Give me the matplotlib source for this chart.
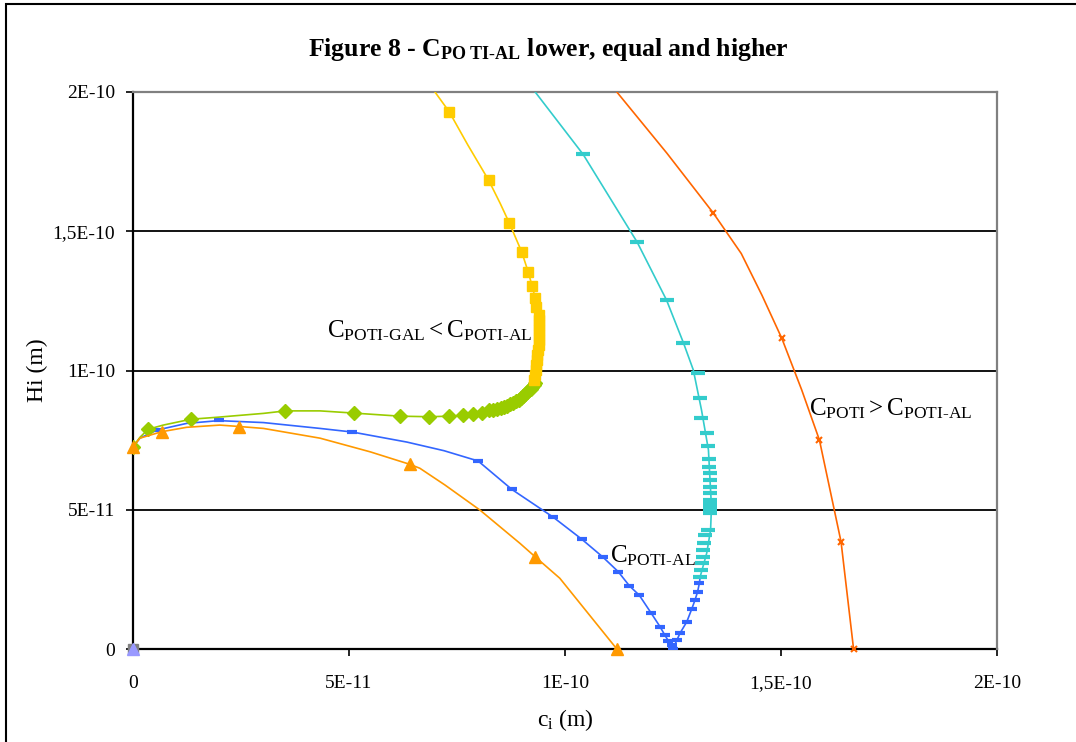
import matplotlib
matplotlib.use('Agg')
import matplotlib.pyplot as plt
from matplotlib.patches import Rectangle
import numpy as np

plt.rcParams['font.family'] = 'Liberation Serif'
plt.rcParams['mathtext.fontset'] = 'custom'
plt.rcParams['mathtext.rm'] = 'Liberation Serif'
plt.rcParams['mathtext.it'] = 'Liberation Serif:italic'
plt.rcParams['mathtext.bf'] = 'Liberation Serif:bold'

E = 1e-12  # valores lidos em unidades de 1E-12 m

# C_POTI-GAL < C_POTI-AL : parte inferior (losangos verdes)
gal_inf_linha_c = [0, 1.6, 3.5, 7.0, 13.4, 19.4, 30.2, 35.3, 43.3, 51.2, 61.8, 68.6, 73.2, 76.3, 78.8,
                   80.7, 82.5, 84.3, 85.9, 87.3, 88.7, 89.8, 90.7, 91.7, 92.4, 93.1]
gal_inf_linha_h = [72.6, 76.0, 78.9, 80.4, 82.5, 83.2, 84.6, 85.5, 85.5, 84.7, 83.6, 83.4, 83.6, 83.9, 84.5,
                   84.9, 85.7, 86.2, 86.9, 88.0, 89.0, 90.1, 91.6, 93.0, 94.1, 95.5]
gal_inf_c = [0, 3.5, 13.4, 35.3, 51.2, 61.8, 68.6, 73.2, 76.3, 78.8, 80.7, 82.5, 83.4, 84.3, 85.1,
             85.9, 86.6, 87.3, 88.0, 88.7, 89.3, 89.8, 90.3, 90.7, 91.2, 91.7, 92.1, 92.4, 92.8, 93.1]
gal_inf_h = [72.6, 78.9, 82.5, 85.5, 84.7, 83.6, 83.4, 83.6, 83.9, 84.5, 84.9, 85.7, 85.9, 86.2, 86.5,
             86.9, 87.4, 88.0, 88.5, 89.0, 89.5, 90.1, 90.8, 91.6, 92.3, 93.0, 93.5, 94.1, 94.8, 95.5]

# C_POTI-GAL < C_POTI-AL : parte superior (quadrados amarelos)
gal_sup_linha_c = [66.5, 69.9, 73.2, 77.5, 82.3, 85.0, 87.1, 90.0, 91.5, 92.4, 93.1, 93.4, 94.0, 94.0,
                   93.9, 93.5, 93.1, 92.8]
gal_sup_linha_h = [210, 200, 192.9, 181, 168.4, 160, 153, 142.5, 135.3, 130.3, 126, 122.7, 119.9, 114.5,
                   110, 103.8, 98.4, 95.5]
gal_sup_c = [73.2, 82.3, 87.1, 90.0, 91.5, 92.4, 93.1, 93.4, 94.0, 93.9, 94.0, 94.0, 94.0, 94.0, 93.9,
             93.75, 93.6, 93.5, 93.4, 93.3, 93.1, 92.9]
gal_sup_h = [192.9, 168.4, 153.0, 142.5, 135.3, 130.3, 126.0, 122.7, 119.9, 118.1, 116.3, 114.5, 112.7,
             111.0, 109.2, 107.4, 105.6, 103.8, 102.0, 100.2, 98.4, 96.6]

# C_POTI-AL : ramo inferior (azul)
al_inf_linha_c = [0, 1.6, 5.5, 12.4, 19.8, 30.2, 43.3, 50.8, 63.4, 72.0, 79.9, 87.7, 97.3, 103.9, 108.7,
                  112.3, 114.9, 117.2, 119.9, 122.0, 123.1, 123.9, 124.7, 125.0, 125.9, 126.6, 128.2,
                  129.3, 130.1, 130.7, 131.1, 131.3]
al_inf_linha_h = [72.6, 75.7, 78.6, 81.0, 82.0, 81.3, 79.2, 77.9, 74.3, 71.2, 67.5, 57.3, 47.3, 39.4, 33.1,
                  27.8, 22.7, 19.3, 13.0, 8.0, 5.0, 3.0, 1.4, 0.0, 3.2, 5.6, 9.8, 14.2, 17.6, 20.6, 23.6,
                  26.0]
al_inf_c = [5.5, 19.8, 50.8, 79.9, 87.7, 97.3, 103.9, 108.7, 112.3, 114.9, 117.2, 119.9, 122.0, 123.1,
            123.9, 124.7, 125.0, 125.9, 126.6, 128.2, 129.3, 130.1, 130.7, 131.1]
al_inf_h = [78.6, 82.2, 77.9, 67.5, 57.3, 47.3, 39.4, 33.1, 27.8, 22.7, 19.3, 13.0, 8.0, 5.0, 3.0, 1.4,
            0.0, 3.2, 5.6, 9.8, 14.2, 17.6, 20.6, 23.6]

# C_POTI-AL : ramo superior (ciano)
al_sup_linha_c = [131.3, 132.8, 133.7, 133.9, 133.2, 131.6, 129.7, 127.4, 123.5, 116.7, 104.2, 93.1, 88.5]
al_sup_linha_h = [26.0, 34.4, 42.7, 51.1, 71.5, 85.8, 100.2, 110.0, 125.3, 146.1, 177.6, 200.0, 210.0]
al_sup_c = [131.3, 131.5, 131.6, 131.9, 132.0, 132.2, 132.4, 133.2, 133.6, 133.6, 133.6, 133.6, 133.6,
            133.6, 133.6, 133.6, 133.6, 133.4, 133.4, 133.2, 132.9, 131.5, 131.3, 130.7, 127.4, 123.5,
            116.7, 104.2]
al_sup_h = [26.0, 28.4, 30.8, 33.1, 35.5, 37.9, 40.9, 42.7, 48.7, 49.9, 51.1, 52.3, 53.5, 55.9, 58.3,
            60.7, 63.1, 65.5, 68.1, 72.9, 77.4, 82.8, 90.2, 99.2, 110.0, 125.3, 146.1, 177.6]

# Curva laranja (triangulos)
tri_linha_c = [0, 1.6, 6.6, 12.4, 20.1, 24.5, 30.2, 43.3, 54.9, 64.1, 66.4, 72.2, 80.3, 89.6, 93.1, 98.8,
               112.0]
tri_linha_h = [72.6, 75.7, 78.0, 79.6, 80.4, 79.9, 79.2, 75.7, 70.8, 66.3, 64.9, 58.9, 49.9, 37.9, 33.1,
               25.4, 0.0]
tri_c = [0, 6.6, 24.5, 64.1, 93.1, 112.0]
tri_h = [72.6, 78.0, 79.6, 66.3, 33.1, 0.0]

# C_POTI > C_POTI-AL (x)
maior_linha_c = [108.0, 112.0, 123.6, 134.3, 140.8, 145.6, 150.2, 154.8, 158.9, 163.9, 166.8]
maior_linha_h = [211.5, 200.0, 178.0, 156.6, 142.0, 127.0, 111.5, 93.0, 75.0, 38.5, 0.0]
maior_c = [134.3, 150.2, 158.9, 163.9, 166.8]
maior_h = [156.6, 111.5, 75.0, 38.5, 0.0]

ticks = [0, 5e-11, 1e-10, 1.5e-10, 2e-10]
tick_labels = ['0', '5E-11', '1E-10', '1,5E-10', '2E-10']


def m(v):
    return np.array(v) * E


fig = plt.figure(figsize=(10.76, 7.42), dpi=100)
ax = fig.add_axes([133 / 1076, 93 / 742, 864 / 1076, 557 / 742])

lw = 1.2
ax.plot(m(al_inf_linha_c), m(al_inf_linha_h), color='#3366FF', lw=lw, zorder=3)
ax.plot(m(al_inf_c), m(al_inf_h), ls='none', marker='_', ms=7, mew=3, color='#3366FF', zorder=3)
ax.plot(m(al_sup_linha_c), m(al_sup_linha_h), color='#33CCCC', lw=lw, zorder=3)
ax.plot(m(al_sup_c), m(al_sup_h), ls='none', marker='_', ms=10, mew=3, color='#33CCCC', zorder=3)
ax.plot(m(gal_inf_linha_c), m(gal_inf_linha_h), color='#99CC00', lw=lw, zorder=4)
ax.plot(m(gal_inf_c), m(gal_inf_h), ls='none', marker='D', ms=7, color='#99CC00', mec='#99CC00', zorder=4)
ax.plot(m(gal_sup_linha_c), m(gal_sup_linha_h), color='#FFCC00', lw=lw, zorder=5)
ax.plot(m(gal_sup_c), m(gal_sup_h), ls='none', marker='s', ms=6.5, color='#FFCC00', mec='#FFCC00', zorder=5)
ax.plot(m(tri_linha_c), m(tri_linha_h), color='#FF9900', lw=lw, zorder=6)
ax.plot(m(tri_c), m(tri_h), ls='none', marker='^', ms=8, color='#FF9900', mec='#FF9900', zorder=6,
        clip_on=False)
ax.plot(m(maior_linha_c), m(maior_linha_h), color='#FF6600', lw=lw, zorder=6)
ax.plot(m(maior_c), m(maior_h), ls='none', marker='x', ms=5, mew=1.5, color='#FF6600', zorder=6,
        clip_on=False)

# marcadores das series na origem
ax.plot([0], [0], ls='none', marker='s', ms=7, color='#808080', zorder=7, clip_on=False)
ax.plot([0], [0], ls='none', marker='^', ms=8, color='#9999FF', mec='#9999FF', zorder=8, clip_on=False)

ax.set_xlim(0, 2e-10)
ax.set_ylim(0, 2e-10)
ax.set_xticks(ticks)
ax.set_xticklabels(tick_labels)
ax.set_yticks(ticks)
ax.set_yticklabels(tick_labels)
ax.tick_params(direction='out', length=5, width=1.2, labelsize=14, color='black')
ax.tick_params(axis='x', pad=14)
ax.tick_params(axis='y', pad=8)
for y in ticks[1:-1]:
    ax.axhline(y, color='black', lw=1.3, zorder=1)
for s in ['left', 'bottom']:
    ax.spines[s].set_color('black')
    ax.spines[s].set_linewidth(1.6)
    ax.spines[s].set_zorder(2)
for s in ['top', 'right']:
    ax.spines[s].set_color('#808080')
    ax.spines[s].set_linewidth(1.6)

ax.set_xlabel(r'c$_\mathregular{i}$ (m)', fontsize=17)
ax.xaxis.set_label_coords(0.5, -0.105)
ax.set_ylabel('Hi (m)', fontsize=17)
ax.yaxis.set_label_coords(-0.098, 0.5)

ax.text(m(45), m(112), r'$\mathregular{C_{POTI\text{-}GAL}< C_{POTI\text{-}AL}}$', fontsize=18,
        ha='left', va='baseline')
ax.text(m(110.5), m(31), r'$\mathregular{C_{POTI\text{-}AL}}$', fontsize=18, ha='left', va='baseline')
ax.text(m(156.5), m(84), r'$\mathregular{C_{POTI} > C_{POTI\text{-}AL}}$', fontsize=18, ha='left',
        va='baseline')

fig.text(0.51, 0.933, r'Figure 8 - $\mathbf{C_{PO\ TI\text{-}AL}}$ lower, equal and higher', fontsize=18.5,
         fontweight='bold', ha='center', va='center')

# moldura da area do grafico
fig.patches.append(Rectangle((6 / 1076, -0.1), 1.2, 1.1 - 4 / 742, transform=fig.transFigure,
                             fill=False, ec='black', lw=1.5))

fig.savefig('out.png', dpi=100)
